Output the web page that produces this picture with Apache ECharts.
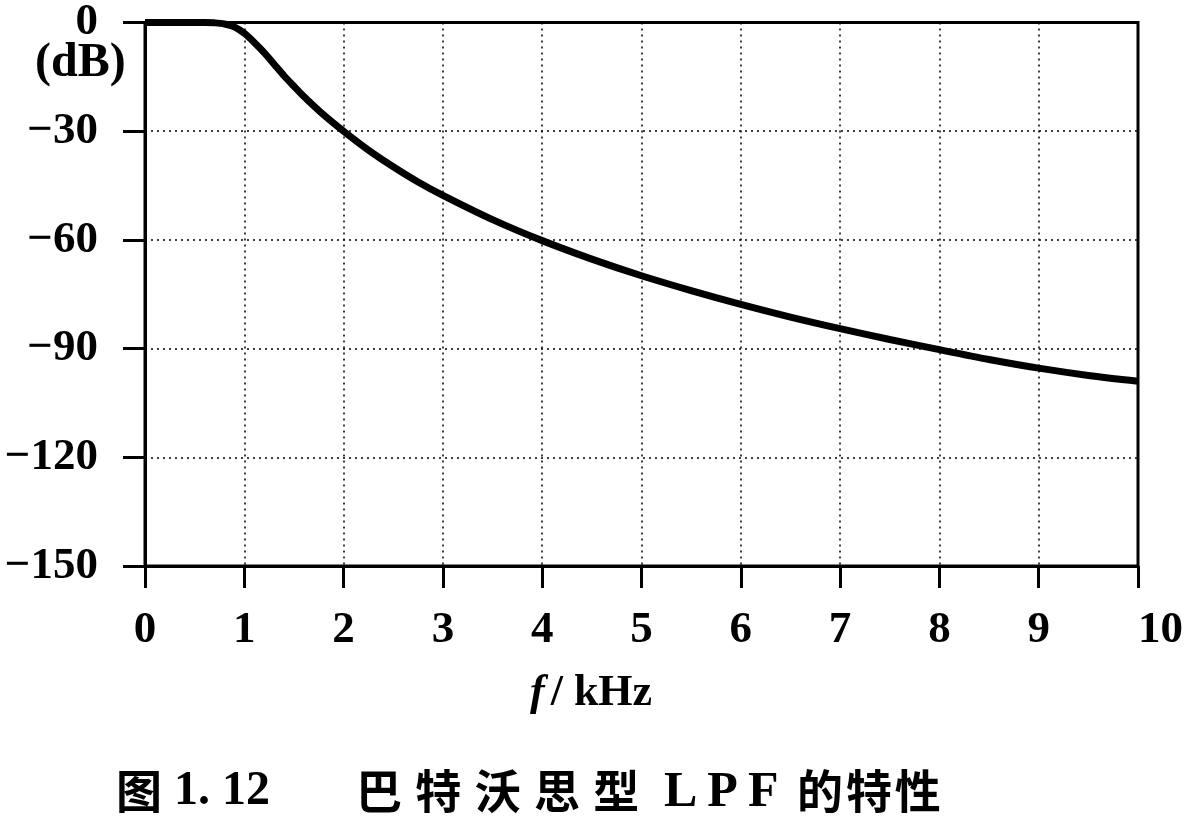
<!DOCTYPE html>
<html>
<head>
<meta charset="utf-8">
<script src="https://cdn.jsdelivr.net/npm/echarts@6/dist/echarts.min.js"></script>
<style>
html,body{margin:0;padding:0;background:#fff;}
#chart{width:1186px;height:828px;}
</style>
</head>
<body>
<div id="chart"></div>
<script>
// Frequency (kHz) and attenuation (dB)
const freq = [0, 0.2, 0.4, 0.6, 0.7, 0.8, 0.9, 1.0, 1.1, 1.2, 1.3, 1.4, 1.5, 1.6, 1.8, 2.0, 2.25, 2.5, 2.75, 3, 3.5, 4, 4.5, 5, 5.5, 6, 6.5, 7, 7.5, 8, 8.5, 9, 9.5, 10];
const gain = [0, 0, 0, 0, -0.1, -0.4, -1.2, -3, -5.5, -8.3, -11.5, -14.7, -17.6, -20.4, -25.5, -30, -35.2, -39.8, -44, -47.7, -54.4, -60.2, -65.3, -69.9, -74, -77.8, -81.3, -84.5, -87.5, -90.3, -93, -95.4, -97.4, -99];
const xTicks = [0, 1, 2, 3, 4, 5, 6, 7, 8, 9, 10];
const yTicks = [0, -30, -60, -90, -120, -150];
const yUnit = '(dB)';
const xName = 'f';
const xUnit = '/ kHz';
const captionFig = '图';
const captionNum = '1. 12';
const captionA = '巴特沃思型';
const captionB = 'LPF';
const captionC = '的特性';

const serif = '"Liberation Serif", "DejaVu Serif", serif';
const cjk = '"Noto Sans CJK SC", sans-serif';

const chart = echarts.init(document.getElementById('chart'));
const spaced = (s, sep) => s.split('').join(sep);
const fs = 45;
chart.setOption({
  animation: false,
  backgroundColor: '#fff',
  grid: { left: 145, right: 46, top: 17, bottom: 262, show: true, borderColor: '#000', borderWidth: 3, backgroundColor: 'transparent' },
  xAxis: {
    type: 'value', min: xTicks[0], max: xTicks[xTicks.length - 1], interval: 1,
    axisLine: { show: true, onZero: false, lineStyle: { color: '#000', width: 3 } },
    axisTick: { show: true, inside: false, length: 22, lineStyle: { color: '#000', width: 3 } },
    axisLabel: { margin: 42, color: '#000', fontFamily: serif, fontWeight: 'bold', fontSize: fs,
      alignMaxLabel: 'left',
      formatter: v => xTicks.includes(v) ? String(v) : '' },
    splitLine: { show: true, lineStyle: { color: '#000', width: 1.5, type: [2, 4] } }
  },
  yAxis: {
    type: 'value', min: yTicks[yTicks.length - 1], max: yTicks[0], interval: 30,
    axisLine: { show: true, onZero: false, lineStyle: { color: '#000', width: 3 } },
    axisTick: { show: true, inside: false, length: 22, lineStyle: { color: '#000', width: 3 } },
    axisLabel: { margin: 47, color: '#000', fontFamily: serif, fontWeight: 'bold', fontSize: fs,
      formatter: v => yTicks.includes(v) ? (v < 0 ? '\u2212' + Math.abs(v) : String(v)) : '' },
    splitLine: { show: true, lineStyle: { color: '#000', width: 1.5, type: [2, 4] } }
  },
  graphic: [
    { type: 'text', left: 35, top: 40, style: { text: yUnit, fontFamily: serif, fontWeight: 'bold', fontSize: 48, fill: '#000' } },
    { type: 'text', left: 530, top: 672, style: {
      text: '{i|' + xName + '}{n|' + xUnit + '}',
      rich: {
        i: { fontFamily: serif, fontStyle: 'italic', fontWeight: 'bold', fontSize: 44, fill: '#000', padding: [0, 6, 0, 0] },
        n: { fontFamily: serif, fontWeight: 'bold', fontSize: 44, fill: '#000' } } } },
    { type: 'text', left: 116, top: 768, style: { text: captionFig, fontFamily: cjk, fontWeight: 'bold', fontSize: 46, fill: '#000' } },
    { type: 'text', left: 174, top: 768, style: { text: captionNum, fontFamily: serif, fontWeight: 'bold', fontSize: 48, fill: '#000' } },
    { type: 'text', left: 356, top: 768, style: { text: spaced(captionA, ' \u200A'), fontFamily: cjk, fontWeight: 'bold', fontSize: 46, fill: '#000' } },
    { type: 'text', left: 664, top: 768, style: { text: spaced(captionB, '\u2009'), fontFamily: serif, fontWeight: 'bold', fontSize: 50, fill: '#000' } },
    { type: 'text', left: 797, top: 768, style: { text: spaced(captionC, '\u200A'), fontFamily: cjk, fontWeight: 'bold', fontSize: 46, fill: '#000' } }
  ],
  series: [{
    type: 'line', data: freq.map((f, i) => [f, gain[i]]), smooth: 0.3, showSymbol: false,
    lineStyle: { color: '#000', width: 7 }, clip: false, z: 5
  }]
});
</script>
</body>
</html>
